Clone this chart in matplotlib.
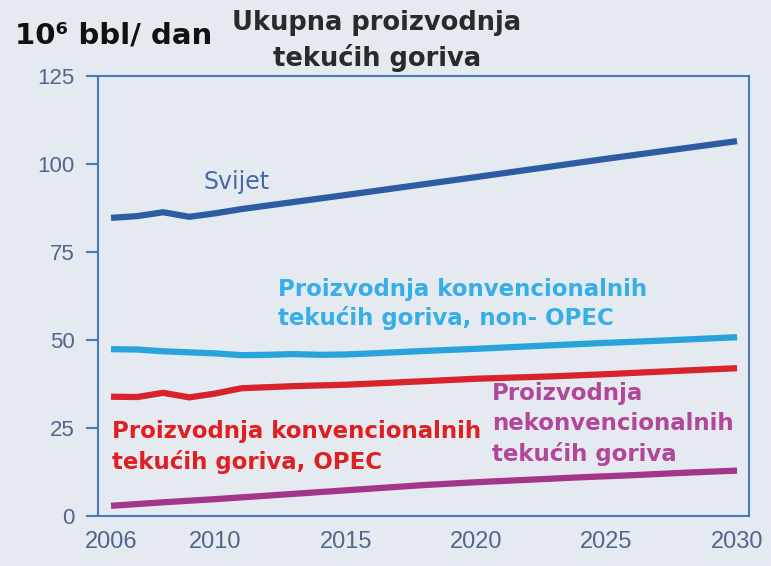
import matplotlib.pyplot as plt

# data (10^6 bbl/dan)
svijet_god = [2006, 2007, 2008, 2009, 2010, 2011, 2012, 2013, 2015, 2020, 2025, 2030]
svijet = [84.7, 85.2, 86.3, 85.0, 86.0, 87.2, 88.2, 89.2, 91.2, 96.3, 101.5, 106.5]

nonopec_god = [2006, 2007, 2008, 2009, 2010, 2011, 2012, 2013, 2014, 2015, 2016, 2018, 2020, 2022, 2025, 2027, 2030]
nonopec = [47.4, 47.3, 46.8, 46.5, 46.2, 45.7, 45.8, 46.0, 45.8, 45.9, 46.2, 46.9, 47.5, 48.2, 49.2, 49.8, 50.8]

opec_god = [2006, 2007, 2008, 2009, 2010, 2011, 2012, 2013, 2015, 2018, 2020, 2023, 2025, 2027, 2030]
opec = [33.9, 33.8, 35.0, 33.7, 34.8, 36.3, 36.6, 36.9, 37.3, 38.3, 39.0, 39.7, 40.3, 41.0, 42.0]

nekonv_god = [2006, 2008, 2010, 2012, 2014, 2016, 2018, 2020, 2022, 2024, 2026, 2028, 2030]
nekonv = [2.9, 3.9, 4.8, 5.8, 6.8, 7.8, 8.8, 9.6, 10.3, 11.0, 11.6, 12.3, 12.9]

x_ticks = [2006, 2010, 2015, 2020, 2025, 2030]
y_ticks = [0, 25, 50, 75, 100, 125]

bg = '#e4eaf0'
fnt = ['Liberation Sans', 'DejaVu Sans']

fig = plt.figure(figsize=(7.71, 5.66), dpi=100, facecolor=bg)
ax = fig.add_axes([0.1271, 0.0883, 0.8444, 0.7774], facecolor=bg)

lw = 4.5
ax.plot(svijet_god, svijet, color='#2d5ca3', lw=lw, solid_capstyle='butt')
ax.plot(nonopec_god, nonopec, color='#29a3dc', lw=lw, solid_capstyle='butt')
ax.plot(opec_god, opec, color='#d8232c', lw=lw, solid_capstyle='butt')
ax.plot(nekonv_god, nekonv, color='#a5358a', lw=lw, solid_capstyle='butt')

ax.set_xlim(2005.5, 2030.46)
ax.set_ylim(0, 125)
ax.set_xticks(x_ticks)
ax.set_yticks(y_ticks)
for s in ax.spines.values():
    s.set_color('#4a79b8')
    s.set_linewidth(1.5)
ax.tick_params(axis='y', length=9, width=1.5, color='#4a79b8', pad=8,
               labelsize=16, labelcolor='#52658c')
ax.tick_params(axis='x', length=0, pad=11, labelsize=17, labelcolor='#52658c')
for lab in ax.get_xticklabels() + ax.get_yticklabels():
    lab.set_family(fnt)

# labels on the lines
ax.text(2009.55, 94.8, 'Svijet', color='#4468a8', fontsize=17, family='DejaVu Sans',
        ha='left', va='center')
ax.text(2012.4, 60.2, 'Proizvodnja konvencionalnih\ntekućih goriva, non- OPEC',
        color='#36aee8', fontsize=16.5, fontweight='bold', family='DejaVu Sans',
        ha='left', va='center', linespacing=1.3)
ax.text(2006.05, 19.6, 'Proizvodnja konvencionalnih\ntekućih goriva, OPEC',
        color='#e01f22', fontsize=16.5, fontweight='bold', family='DejaVu Sans',
        ha='left', va='center', linespacing=1.35)
ax.text(2020.6, 26.2, 'Proizvodnja\nnekonvencionalnih\ntekućih goriva',
        color='#b2479a', fontsize=16.5, fontweight='bold', family='DejaVu Sans',
        ha='left', va='center', linespacing=1.38)

# unit and title
fig.text(15 / 771, 1 - 35 / 566, '10\u2076 bbl/ dan', fontsize=21, fontweight='bold',
         color='#111111', family='DejaVu Sans', ha='left', va='center')
fig.text(377 / 771, 1 - 41 / 566, 'Ukupna proizvodnja\ntekućih goriva', fontsize=18.5,
         fontweight='bold', color='#2a2a2a', family='DejaVu Sans',
         ha='center', va='center', linespacing=1.4)

fig.savefig('out.png', dpi=100, facecolor=bg)
